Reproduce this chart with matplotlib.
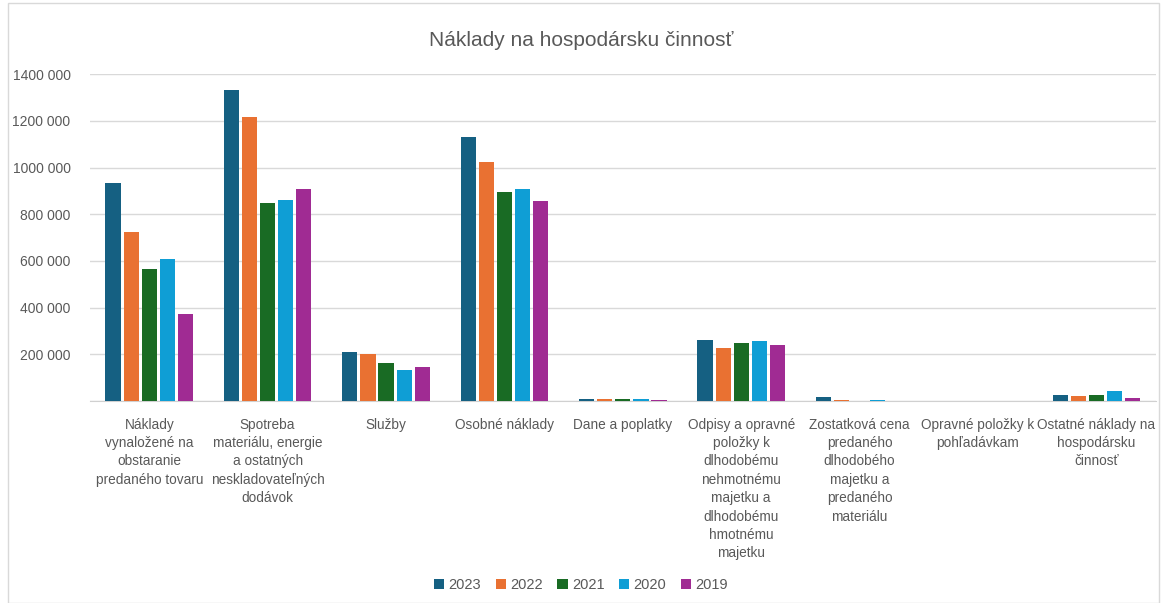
import matplotlib.pyplot as plt
import numpy as np
from matplotlib.patches import Rectangle
from matplotlib.ticker import FuncFormatter

plt.rcParams['font.family'] = ['Liberation Sans', 'DejaVu Sans']

categories = [
    "Náklady\nvynaložené na\nobstaranie\npredaného tovaru",
    "Spotreba\nmateriálu, energie\na ostatných\nneskladovateľných\ndodávok",
    "Služby",
    "Osobné náklady",
    "Dane a poplatky",
    "Odpisy a opravné\npoložky k\ndlhodobému\nnehmotnému\nmajetku a\ndlhodobému\nhmotnému\nmajetku",
    "Zostatková cena\npredaného\ndlhodobého\nmajetku a\npredaného\nmateriálu",
    "Opravné položky k\npohľadávkam",
    "Ostatné náklady na\nhospodársku\nčinnosť",
]
years = ["2023", "2022", "2021", "2020", "2019"]
v2023 = [933000, 1331000, 210000, 1130000, 10000, 261000, 17000, 0, 27000]
v2022 = [723000, 1216000, 201000, 1023000, 9000, 227000, 4000, 0, 21000]
v2021 = [565000, 848000, 163000, 895000, 9000, 248000, 0, 0, 27000]
v2020 = [608000, 860000, 133000, 908000, 9000, 257000, 5000, 0, 43000]
v2019 = [372000, 908000, 146000, 856000, 6000, 240000, 0, 0, 13000]
series = [v2023, v2022, v2021, v2020, v2019]
colors = ["#156082", "#E97132", "#196B24", "#0F9ED5", "#A02B93"]


def fmt(v, pos):
    if v == 0:
        return ""
    return f"{int(v) // 1000}\u00a0000"


fig = plt.figure(figsize=(11.62, 6.03), dpi=100)
ax = fig.add_axes([0.0775, 0.335, 0.917, 0.542])

x = np.arange(len(categories))
step = 0.153
width = 0.128
for i, (vals, col, yr) in enumerate(zip(series, colors, years)):
    ax.bar(x + (i - 2) * step, vals, width, color=col, label=yr, zorder=3)

ax.set_xlim(-0.5, len(categories) - 0.5)
ax.set_ylim(0, 1400000)
ax.set_yticks(range(0, 1400001, 200000))
ax.yaxis.set_major_formatter(FuncFormatter(fmt))
ax.grid(axis='y', color='#d9d9d9', linewidth=1, zorder=0)
for s in ['top', 'right', 'left']:
    ax.spines[s].set_visible(False)
ax.spines['bottom'].set_color('#d0d0d0')
ax.tick_params(axis='both', length=0, labelcolor='#595959')
ax.tick_params(axis='y', pad=14, labelsize=10)
ax.set_xticks(x)
ax.set_xticklabels(categories, linespacing=1.4, va='top', fontsize=9.8)
ax.tick_params(axis='x', pad=12)

fig.text(0.5, 0.933, "Náklady na hospodársku činnosť", ha='center', va='center',
         fontsize=15, color='#595959')

fig.legend(loc='center', bbox_to_anchor=(0.5, 0.03), ncol=5, frameon=False,
           fontsize=10.5, handlelength=0.7, handleheight=0.7, handletextpad=0.3,
           columnspacing=1.0, labelcolor='#595959')

fig.patches.append(Rectangle((0.007, 0.0), 0.99, 0.995, transform=fig.transFigure,
                             fill=False, edgecolor='#d9d9d9', linewidth=1))

fig.savefig("out.png", dpi=100)
